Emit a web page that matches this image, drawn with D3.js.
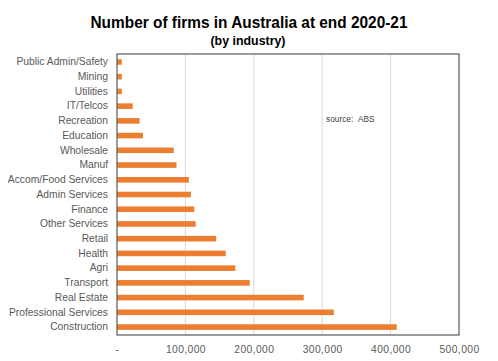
<!DOCTYPE html>
<html>
<head>
<meta charset="utf-8">
<script src="https://cdn.jsdelivr.net/npm/d3@7"></script>
<style>
  body { margin: 0; background: #fff; }
  text { font-family: "Liberation Sans", Arial, sans-serif; }
</style>
</head>
<body>
<svg id="chart" width="498" height="361"></svg>
<script>
// industries, top to bottom
const industries = [
    "Public Admin/Safety", "Mining", "Utilities", "IT/Telcos", "Recreation",
    "Education", "Wholesale", "Manuf", "Accom/Food Services", "Admin Services",
    "Finance", "Other Services", "Retail", "Health", "Agri",
    "Transport", "Real Estate", "Professional Services", "Construction"
];
const firms = [
    7000, 7000, 7000, 23000, 33000,
    38000, 83000, 87000, 105000, 108000,
    113000, 115000, 145000, 159000, 173000,
    194000, 273000, 317000, 409000
];
const xTicks = [0, 100000, 200000, 300000, 400000, 500000];

const svg = d3.select("#chart");
const margin = { top: 54, right: 39, bottom: 26, left: 117 };
const width = 498 - margin.left - margin.right;
const height = 361 - margin.top - margin.bottom;

const x = d3.scaleLinear().domain([0, 500000]).range([0, width]);
const y = d3.scaleBand().domain(industries).range([0, height]).paddingInner(0.62).paddingOuter(0.35);

const g = svg.append("g").attr("transform", `translate(${margin.left},${margin.top})`);

// gridlines
g.append("g")
    .selectAll("line")
    .data(xTicks.slice(1, -1))
    .enter()
    .append("line")
    .attr("x1", d => x(d))
    .attr("x2", d => x(d))
    .attr("y1", 0)
    .attr("y2", height)
    .attr("stroke", "#d9d9d9")
    .attr("stroke-width", 1);

// bars
g.append("g")
    .selectAll("rect")
    .data(industries)
    .enter()
    .append("rect")
    .attr("x", 0)
    .attr("y", d => y(d))
    .attr("width", (d, i) => x(firms[i]))
    .attr("height", y.bandwidth())
    .attr("fill", "#ED7D31");

// frame
g.append("rect")
    .attr("x", 0)
    .attr("y", 0)
    .attr("width", width)
    .attr("height", height)
    .attr("fill", "none")
    .attr("stroke", "#595959")
    .attr("stroke-width", 1.2);

// category labels
const yAxis = g.append("g")
    .call(d3.axisLeft(y).tickSize(0).tickPadding(9));
yAxis.select(".domain").remove();
yAxis.selectAll("text")
    .attr("font-size", 10.3)
    .attr("fill", "#595959")
    .style("font-family", "'Liberation Sans', Arial, sans-serif");

// value axis
const xAxis = g.append("g")
    .attr("transform", `translate(0,${height})`)
    .call(d3.axisBottom(x).tickValues(xTicks).tickSize(0).tickPadding(11)
        .tickFormat(d => d === 0 ? "-" : d3.format(",")(d)));
xAxis.select(".domain").remove();
xAxis.selectAll("text")
    .attr("font-size", 10.3)
    .attr("fill", "#595959")
    .style("font-family", "'Liberation Sans', Arial, sans-serif")
    .style("letter-spacing", "0.4px");

// titles
svg.append("text")
    .attr("x", 249)
    .attr("y", 28)
    .attr("text-anchor", "middle")
    .attr("font-size", 16.5)
    .attr("font-weight", "bold")
    .attr("fill", "#000")
    .attr("textLength", 317)
    .attr("lengthAdjust", "spacingAndGlyphs")
    .text("Number of firms in Australia at end 2020-21");

svg.append("text")
    .attr("x", 248)
    .attr("y", 45)
    .attr("text-anchor", "middle")
    .attr("font-size", 13.5)
    .attr("font-weight", "bold")
    .attr("fill", "#000")
    .attr("textLength", 75)
    .attr("lengthAdjust", "spacingAndGlyphs")
    .text("(by industry)");

svg.append("text")
    .attr("x", 326)
    .attr("y", 122)
    .attr("font-size", 8.3)
    .attr("fill", "#404040")
    .style("word-spacing", "3px")
    .text("source: ABS");
</script>
</body>
</html>
